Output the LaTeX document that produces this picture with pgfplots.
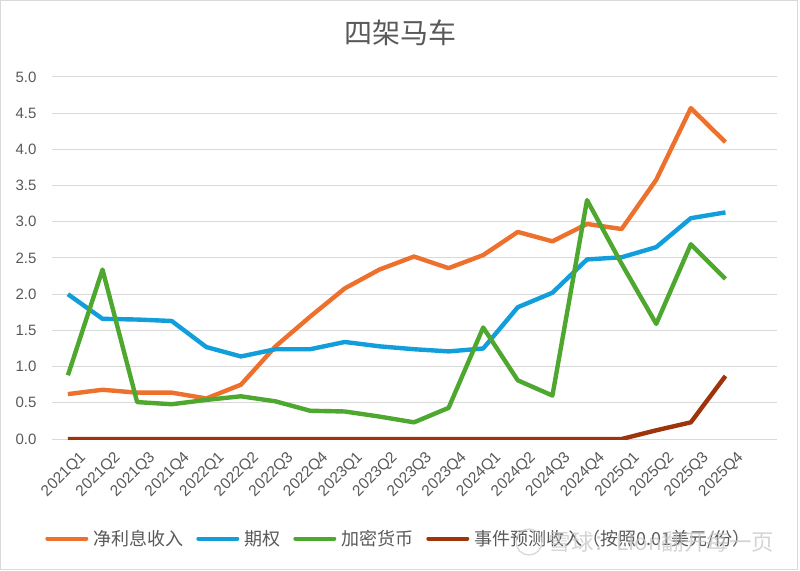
\documentclass[border=0pt]{standalone}
\usepackage{fontspec}
\setmainfont{Liberation Sans}
\newfontfamily\cjk{Noto Sans CJK SC}
\usepackage{pgfplots}
\pgfplotsset{compat=1.18}
\definecolor{cOr}{RGB}{237,112,45}
\definecolor{cBl}{RGB}{17,158,218}
\definecolor{cGr}{RGB}{78,167,46}
\definecolor{cBr}{RGB}{158,52,10}
\definecolor{txt}{RGB}{89,89,89}
\definecolor{grd}{RGB}{217,217,217}
\begin{document}
\begin{tikzpicture}[x=1pt,y=1pt]
\path[use as bounding box] (0pt,0pt) rectangle (800pt,570pt);
\draw[grd, line width=1pt] (0.5pt,1pt) rectangle (797pt,569.5pt);
\node[txt, font=\cjk\fontsize{28}{32}\selectfont] at (400pt,537pt) {四架马车};
\begin{axis}[at={(52pt,131pt)}, anchor=south west, scale only axis,
  width=725pt, height=362pt,
  xmin=-0.46, xmax=20.49, ymin=0, ymax=5,
  axis line style={draw=none},
  ytick={0,0.5,1,1.5,2,2.5,3,3.5,4,4.5,5},
  ymajorgrids, grid style={grd, line width=1pt},
  major tick length=0pt,
  xtick={0,...,19},
  xticklabels={2021Q1,2021Q2,2021Q3,2021Q4,2022Q1,2022Q2,2022Q3,2022Q4,2023Q1,2023Q2,2023Q3,2023Q4,2024Q1,2024Q2,2024Q3,2024Q4,2025Q1,2025Q2,2025Q3,2025Q4},
  x tick label style={rotate=45, anchor=north east, font=\fontsize{15.5}{18}\selectfont, text=txt, xshift=3pt, yshift=-12pt},
  y tick label style={font=\fontsize{15}{18}\selectfont, text=txt, xshift=-12pt},
  yticklabel={\pgfmathprintnumber[fixed,fixed zerofill,precision=1]{\tick}},
  /pgf/number format/assume math mode=true,
  legend columns=4,
  legend style={at={(0.477,-0.275)}, anchor=center, draw=none, fill=none,
    font=\cjk\fontsize{18}{21}\selectfont, text=txt,
    nodes={inner sep=0pt},
    /tikz/every odd column/.append style={column sep=5pt},
    /tikz/every even column/.append style={column sep=13pt}},
  legend image code/.code={\draw[#1, line width=4pt, line cap=round] (2pt,0pt) -- (41pt,0pt);},
  every axis plot/.append style={line width=4.4pt, line join=round, mark=none},
]
\addplot[cOr] coordinates {(0,0.62)(1,0.68)(2,0.64)(3,0.64)(4,0.56)(5,0.75)(6,1.28)(7,1.69)(8,2.08)(9,2.34)(10,2.52)(11,2.36)(12,2.54)(13,2.86)(14,2.73)(15,2.97)(16,2.90)(17,3.58)(18,4.57)(19,4.10)};
\addlegendentry{净利息收入}
\addplot[cBl] coordinates {(0,2.00)(1,1.66)(2,1.65)(3,1.63)(4,1.27)(5,1.14)(6,1.24)(7,1.24)(8,1.34)(9,1.28)(10,1.24)(11,1.21)(12,1.25)(13,1.82)(14,2.02)(15,2.48)(16,2.51)(17,2.65)(18,3.05)(19,3.13)};
\addlegendentry{期权}
\addplot[cGr] coordinates {(0,0.88)(1,2.34)(2,0.51)(3,0.48)(4,0.54)(5,0.59)(6,0.52)(7,0.39)(8,0.38)(9,0.31)(10,0.23)(11,0.43)(12,1.54)(13,0.81)(14,0.60)(15,3.30)(16,2.42)(17,1.59)(18,2.69)(19,2.21)};
\addlegendentry{加密货币}
\addplot[cBr] coordinates {(0,0)(1,0)(2,0)(3,0)(4,0)(5,0)(6,0)(7,0)(8,0)(9,0)(10,0)(11,0)(12,0)(13,0)(14,0)(15,0)(16,0)(17,0.12)(18,0.23)(19,0.87)};
\addlegendentry{事件预测收入（按照0.01美元/份）}
\end{axis}
\node[text=gray!45, font=\cjk\fontsize{22.5}{26}\selectfont, anchor=west, opacity=0.75] at (545pt,28pt) {雪球：Lion翻开每一页};
\draw[gray!40, line width=1.3pt, opacity=0.75] (529pt,28pt) circle (13pt);
\end{tikzpicture}
\end{document}
